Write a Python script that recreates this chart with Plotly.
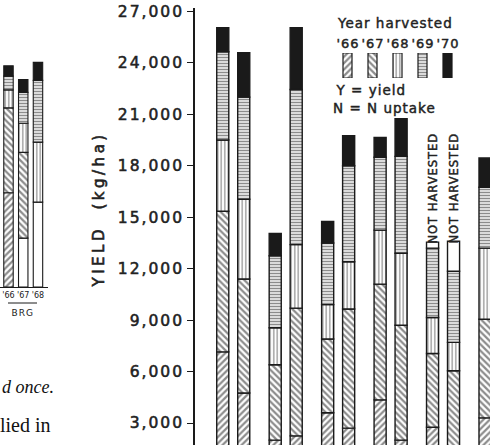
import plotly.graph_objects as go

# ---------------- data (kg/ha) ----------------
years = ["'66", "'67", "'68", "'69", "'70"]

# main panel: 11 visible bars, grouped in pairs
bar_group = [1, 1, 2, 2, 3, 3, 4, 4, 5, 5, 6]
bar_member = [-1, 1, -1, 1, -1, 1, -1, 1, -1, 1, -1]
y66 = [7150, 4750, 2000, 2250, 3600, 2700, 4350, 2000, 2750, 1500, 3300]
y67 = [8200, 6650, 4400, 7450, 4300, 6950, 6750, 6700, 4300, 4550, 5750]
y68 = [4150, 4650, 2150, 3700, 2000, 2750, 3150, 4200, 2100, 1650, 4150]
y69 = [5150, 5950, 4200, 9050, 3600, 5600, 4250, 5650, 4050, 4150, 3550]
y70 = [1400, 2600, 1300, 3600, 1250, 1750, 1150, 2200, 0, 0, 1700]
not_harvested = [0, 0, 0, 0, 0, 0, 0, 0, 350, 1750, 0]

# left (partial) panel: BRG
brg_labels = ["'66", "'67", "'68"]
brg_blank = [0, 2850, 4950]
brg66 = [5500, 0, 0]
brg67 = [4950, 5000, 0]
brg68 = [1050, 1700, 3500]
brg69 = [800, 1800, 3600]
brg70 = [600, 750, 1050]

yticks = list(range(3000, 27001, 3000))

# ---------------- styles ----------------
FONT = "DejaVu Sans"
INK = "#1a1a1a"
TXT = "#222"
styles = {
    "'66": dict(shape="/", size=4.5, solidity=0.5),
    "'67": dict(shape="\\", size=4.5, solidity=0.5),
    "'68": dict(shape="|", size=3.5, solidity=0.35),
    "'69": dict(shape="-", size=3, solidity=0.55),
    "'70": None,
}


def marker_for(year, lw=1.4):
    st = styles[year]
    if st is None:
        return dict(color=INK, line=dict(color=INK, width=lw))
    return dict(color="white", line=dict(color=INK, width=lw),
                pattern=dict(fgcolor=INK, bgcolor="white", **st))


def nz(vals):
    return [v if v else None for v in vals]


def f(size, family=FONT, color=TXT):
    return dict(family=family, size=size, color=color)


fig = go.Figure()

bx = [g + 0.2 * m for g, m in zip(bar_group, bar_member)]
for yr, vals in zip(years, [y66, y67, y68, y69, y70]):
    fig.add_trace(go.Bar(x=bx, y=nz(vals), width=0.23, marker=marker_for(yr),
                         xaxis="x", yaxis="y", name=yr))
fig.add_trace(go.Bar(x=bx, y=nz(not_harvested), width=0.23,
                     marker=dict(color="white", line=dict(color=INK, width=1.4)),
                     xaxis="x", yaxis="y", name="not harvested"))

lx = list(range(len(brg_labels)))
fig.add_trace(go.Bar(x=lx, y=nz(brg_blank), width=0.64,
                     marker=dict(color="white", line=dict(color=INK, width=1.1)),
                     xaxis="x2", yaxis="y2"))
for yr, vals in zip(years, [brg66, brg67, brg68, brg69, brg70]):
    fig.add_trace(go.Bar(x=lx, y=nz(vals), width=0.64, marker=marker_for(yr, 1.1),
                         xaxis="x2", yaxis="y2"))

for i, yr in enumerate(years):
    fig.add_trace(go.Bar(x=[i + 0.5], y=[1], width=0.36, marker=marker_for(yr, 1.2),
                         xaxis="x3", yaxis="y3"))

W, H = 490, 445
fig.update_layout(
    width=W, height=H, margin=dict(l=0, r=0, t=0, b=0),
    paper_bgcolor="white", plot_bgcolor="white",
    barmode="relative", showlegend=False,
    font=dict(family=FONT, color=INK),
    xaxis=dict(domain=[195 / W, 1], range=[0.2707, 5.895], visible=False),
    yaxis=dict(domain=[0, 1 - 8 / H], range=[1717, 27200],
               tickvals=yticks, tickformat=",", ticks="outside", ticklen=6,
               tickwidth=1.4, tickcolor=INK, showline=True, linecolor=INK,
               linewidth=1.6, showgrid=False, zeroline=False, automargin=False,
               tickfont=f(15.5)),
    xaxis2=dict(domain=[0, 48 / W], range=[-0.576, 2.68], anchor="y2",
                tickvals=lx, ticktext=brg_labels, ticks="", showline=True,
                linecolor=INK, linewidth=1, showgrid=False, zeroline=False,
                automargin=False, tickfont=f(8)),
    yaxis2=dict(domain=[1 - 287 / H, 1], range=[0, 16740], anchor="x2",
                visible=False),
    xaxis3=dict(domain=[335 / W, 460 / W], range=[0, 5], anchor="y3",
                visible=False),
    yaxis3=dict(domain=[1 - 78 / H, 1 - 53 / H], range=[0, 1], anchor="x3",
                visible=False),
)

ann = []
ann.append(dict(text="YIELD  (kg/ha)", x=99 / W, y=1 - 210 / H, xref="paper",
                yref="paper", xanchor="center", yanchor="middle", textangle=-90,
                showarrow=False, font=f(15)))
ann.append(dict(text="Year harvested", x=395 / W, y=1 - 23 / H, xref="paper",
                yref="paper", xanchor="center", yanchor="middle", showarrow=False,
                font=f(13.5)))
for i, yr in enumerate(years):
    ann.append(dict(text=yr, x=i + 0.5, y=1 - 43 / H, xref="x3", yref="paper",
                    xanchor="center", yanchor="middle", showarrow=False,
                    font=f(13)))
ann.append(dict(text="Y = yield", x=338 / W, y=1 - 90 / H, xref="paper",
                yref="paper", xanchor="left", yanchor="middle", showarrow=False,
                font=f(13.5)))
ann.append(dict(text="N = N uptake", x=337 / W, y=1 - 108 / H, xref="paper",
                yref="paper", xanchor="left", yanchor="middle", showarrow=False,
                font=f(13.5)))
for k in (8, 9):
    ann.append(dict(text="NOT HARVESTED", x=bx[k], y=13700, xref="x", yref="y",
                    xanchor="center", yanchor="bottom", textangle=-90,
                    showarrow=False, font=f(11.5)))
ann.append(dict(text="BRG", x=22 / W, y=1 - 313 / H, xref="paper", yref="paper",
                xanchor="center", yanchor="middle", showarrow=False, font=f(9)))
ann.append(dict(text="<i>d once.</i>", x=56 / W, y=1 - 387 / H, xref="paper",
                yref="paper", xanchor="right", yanchor="middle", showarrow=False,
                font=f(18, "Liberation Serif", "#111")))
ann.append(dict(text="lied in", x=53 / W, y=1 - 425 / H, xref="paper",
                yref="paper", xanchor="right", yanchor="middle", showarrow=False,
                font=f(20, "Liberation Serif", "#111")))
fig.update_layout(annotations=ann)

fig.add_shape(type="line", xref="paper", yref="paper", x0=8 / W, x1=37 / W,
              y0=1 - 303 / H, y1=1 - 303 / H, line=dict(color=INK, width=1))

# wider, slightly heavier lettering, like the drafted lettering of the original
post = """
var gd = document.getElementById('{plot_id}');
function heavy(t, w) { t.style.stroke = '#222'; t.style.strokeWidth = w; }
function widen() {
  gd.querySelectorAll('.ytick text').forEach(function (t) {
    t.style.letterSpacing = '2px'; heavy(t, '0.55px');
  });
  gd.querySelectorAll('.annotation-text').forEach(function (t) {
    var s = t.textContent;
    if (s.indexOf('YIELD') === 0) { t.style.letterSpacing = '3.5px'; heavy(t, '0.6px'); }
    else if (s === 'BRG') { t.style.letterSpacing = '1px'; }
    else if (s.indexOf('lied') < 0 && s.indexOf('once') < 0) {
      t.style.letterSpacing = '1px'; heavy(t, '0.45px');
    }
  });
}
widen();
if (gd.on) { gd.on('plotly_afterplot', widen); }
"""

fig.write_html("out.html", post_script=post)
